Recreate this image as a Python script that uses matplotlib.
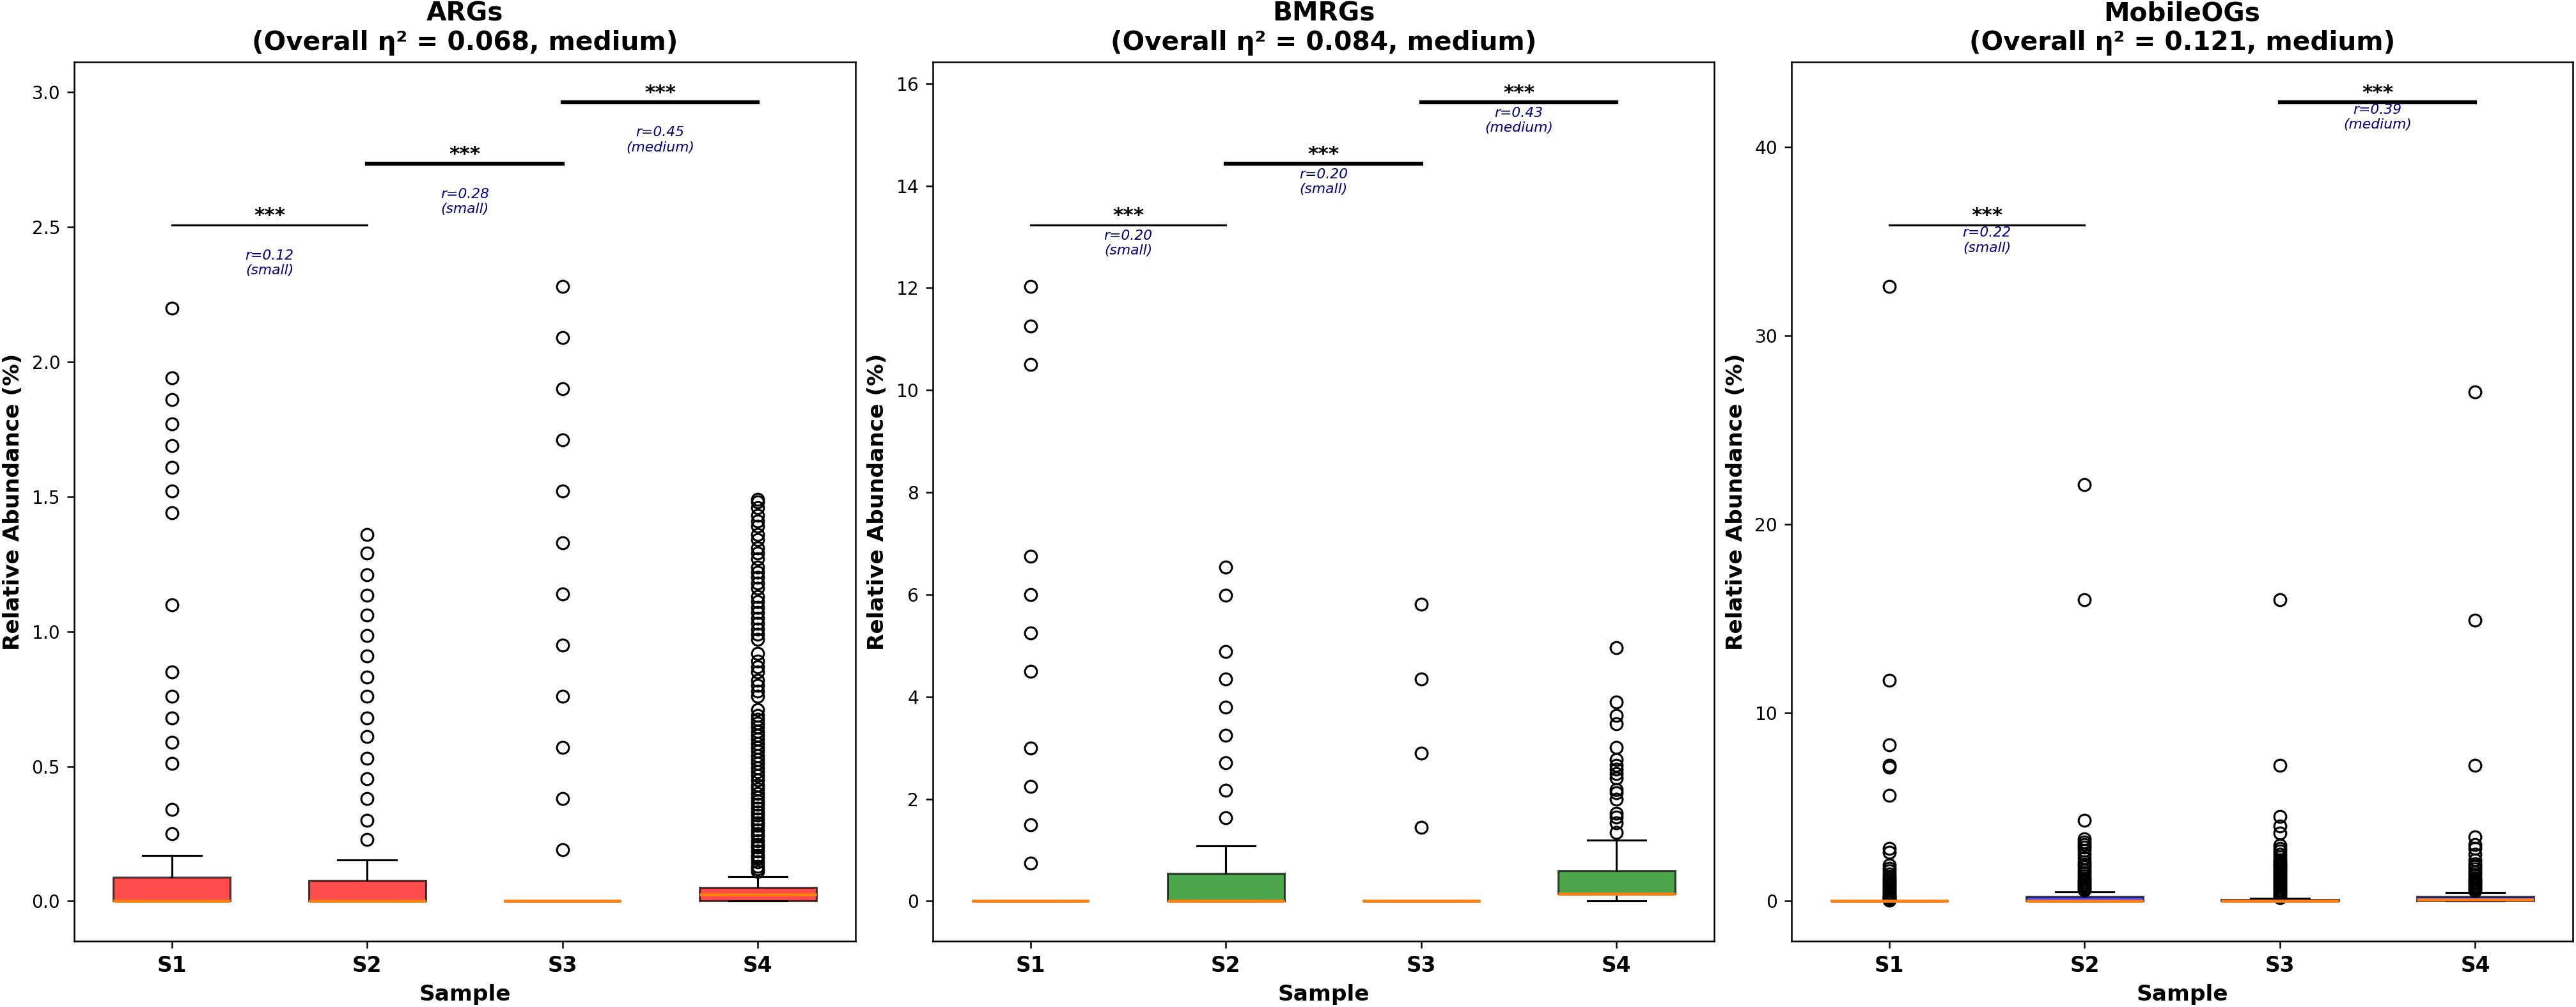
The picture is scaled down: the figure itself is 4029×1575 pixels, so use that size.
import numpy as np
import matplotlib
matplotlib.use("Agg")
import matplotlib.pyplot as plt

samples = ["S1", "S2", "S3", "S4"]
gene_sets = ["ARGs", "BMRGs", "MobileOGs"]
eta_sq = [0.068, 0.084, 0.121]
eta_label = ["medium", "medium", "medium"]
box_colors = ["red", "green", "blue"]

# box statistics: q1, median, q3, lower / upper whisker
args_q1 = [0.0, 0.0, 0.0, 0.0]
args_med = [0.0, 0.0, 0.0, 0.026]
args_q3 = [0.088, 0.076, 0.0, 0.05]
args_lo = [0.0, 0.0, 0.0, 0.0]
args_hi = [0.17, 0.152, 0.0, 0.092]
args_fliers = [
    [0.25, 0.34, 0.51, 0.59, 0.68, 0.76, 0.85, 1.10, 1.44, 1.52, 1.61, 1.69, 1.77, 1.86, 1.94, 2.20],
    [0.23, 0.30, 0.38, 0.455, 0.53, 0.61, 0.68, 0.76, 0.83, 0.91, 0.985, 1.06, 1.135, 1.21, 1.29, 1.36],
    [0.19, 0.38, 0.57, 0.76, 0.95, 1.14, 1.33, 1.52, 1.71, 1.90, 2.09, 2.28],
    [0.11, 0.12, 0.13, 0.145, 0.16, 0.17, 0.185, 0.20, 0.21, 0.225, 0.24, 0.25, 0.265, 0.28, 0.29,
     0.305, 0.32, 0.33, 0.345, 0.36, 0.37, 0.385, 0.40, 0.415, 0.43,
     0.45, 0.465, 0.48, 0.495, 0.51, 0.525, 0.54, 0.555, 0.57, 0.585, 0.60, 0.615, 0.63, 0.645,
     0.66, 0.675, 0.69, 0.71,
     0.76, 0.78, 0.80, 0.82, 0.85, 0.87, 0.89, 0.92,
     0.97, 0.99, 1.01, 1.03, 1.05, 1.07, 1.09, 1.11, 1.13, 1.16, 1.18, 1.20, 1.22, 1.24, 1.27,
     1.29, 1.31, 1.34, 1.36, 1.39, 1.41, 1.43, 1.46, 1.48, 1.49],
]

bmrgs_q1 = [0.0, 0.0, 0.0, 0.15]
bmrgs_med = [0.0, 0.0, 0.0, 0.15]
bmrgs_q3 = [0.0, 0.54, 0.0, 0.60]
bmrgs_lo = [0.0, 0.0, 0.0, 0.0]
bmrgs_hi = [0.0, 1.08, 0.0, 1.20]
bmrgs_fliers = [
    [0.75, 1.5, 2.25, 3.0, 4.5, 5.25, 6.0, 6.75, 10.5, 11.25, 12.03],
    [1.63, 2.17, 2.71, 3.25, 3.8, 4.35, 4.89, 5.99, 6.54],
    [1.44, 2.9, 4.35, 5.81],
    [1.35, 1.53, 1.64, 1.72, 2.0, 2.12, 2.18, 2.41, 2.5, 2.58, 2.66, 2.77, 3.01, 3.47, 3.63, 3.9, 4.96],
]

mobile_q1 = [0.0, 0.0, 0.0, 0.0]
mobile_med = [0.0, 0.0, 0.0, 0.1]
mobile_q3 = [0.0, 0.25, 0.1, 0.25]
mobile_lo = [0.0, 0.0, 0.0, 0.0]
mobile_hi = [0.0, 0.5, 0.15, 0.47]
mobile_fliers = [
    [0.05, 0.1, 0.15, 0.2, 0.25, 0.3, 0.4, 0.5, 0.6, 0.7, 0.8, 0.9, 1.0, 1.1, 1.2, 1.3, 1.45,
     1.6, 1.75, 1.9, 2.6, 2.8, 5.6, 7.1, 7.2, 8.3, 11.7, 32.6],
    [0.6, 0.7, 0.8, 0.9, 1.0, 1.1, 1.2, 1.35, 1.5, 1.65, 1.8, 1.95, 2.1, 2.3, 2.5, 2.7, 2.85,
     3.0, 3.15, 3.3, 4.3, 16.0, 22.1],
    [0.2, 0.3, 0.4, 0.5, 0.6, 0.7, 0.8, 0.9, 1.0, 1.1, 1.2, 1.3, 1.4, 1.5, 1.6, 1.7, 1.8, 1.9,
     2.0, 2.1, 2.2, 2.35, 2.5, 2.65, 2.8, 2.95, 3.6, 4.0, 4.5, 7.2, 16.0],
    [0.55, 0.65, 0.75, 0.85, 0.95, 1.05, 1.15, 1.25, 1.4, 1.55, 1.7, 1.85, 2.0, 2.2, 2.5, 2.8,
     3.0, 3.4, 7.2, 14.9, 27.0],
]

# pairwise tests between neighbouring samples (None = not significant)
args_r = [0.12, 0.28, 0.45]
args_rsize = ["small", "small", "medium"]
bmrgs_r = [0.20, 0.20, 0.43]
bmrgs_rsize = ["small", "small", "medium"]
mobile_r = [0.22, None, 0.39]
mobile_rsize = ["small", None, "medium"]
stars = ["***", "***", "***"]

panels = [
    (args_q1, args_med, args_q3, args_lo, args_hi, args_fliers, args_r, args_rsize),
    (bmrgs_q1, bmrgs_med, bmrgs_q3, bmrgs_lo, bmrgs_hi, bmrgs_fliers, bmrgs_r, bmrgs_rsize),
    (mobile_q1, mobile_med, mobile_q3, mobile_lo, mobile_hi, mobile_fliers, mobile_r, mobile_rsize),
]

fig, axes = plt.subplots(1, 3, figsize=(4029 / 225, 1575 / 225), dpi=225)
fig.subplots_adjust(left=0.0288, right=0.9988, top=0.9384, bottom=0.0654, wspace=0.099)

for k, ax in enumerate(axes):
    q1, med, q3, lo, hi, fl, rvals, rsizes = panels[k]
    stats = []
    for i in range(len(samples)):
        stats.append({"q1": q1[i], "med": med[i], "q3": q3[i], "whislo": lo[i],
                      "whishi": hi[i], "fliers": fl[i], "label": samples[i]})
    bp = ax.bxp(stats, widths=0.6, patch_artist=True,
                medianprops=dict(color="#ff7f0e", linewidth=1.5))
    for patch in bp["boxes"]:
        patch.set_facecolor(box_colors[k])
        patch.set_edgecolor("black")
        patch.set_alpha(0.7)

    ymax = max(max(f) for f in fl)
    for j in range(len(samples) - 1):
        if rvals[j] is None:
            continue
        y = ymax * (1.1 + 0.1 * j)
        lw = 1.0 if j == 0 else 2.0
        ax.plot([j + 1, j + 2], [y, y], color="black", linewidth=lw)
        ax.text(j + 1.5, y, stars[j], ha="center", va="bottom", fontsize=10, fontweight="bold")
        ax.text(j + 1.5, y - 0.09, f"r={rvals[j]:.2f}\n({rsizes[j]})", ha="center", va="top",
                fontsize=7, style="italic", color="navy")

    ax.set_title(f"{gene_sets[k]}\n(Overall η² = {eta_sq[k]:.3f}, {eta_label[k]})",
                 fontsize=13, fontweight="bold")
    ax.set_xlabel("Sample", fontsize=11, fontweight="bold")
    ax.set_ylabel("Relative Abundance (%)", fontsize=11, fontweight="bold")
    ax.tick_params(axis="y", labelsize=9)
    for lab in ax.get_xticklabels():
        lab.set_fontweight("bold")
        lab.set_fontsize(10.5)

fig.savefig("out.png", dpi=225)
